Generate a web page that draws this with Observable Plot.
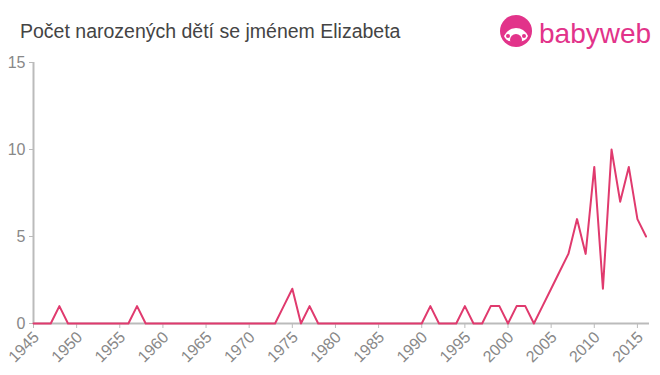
<!DOCTYPE html>
<html><head><meta charset="utf-8">
<script src="https://cdn.jsdelivr.net/npm/d3@7"></script>
<script src="https://cdn.jsdelivr.net/npm/@observablehq/plot@0.6"></script>
<style>
body{margin:0;background:#fff;font-family:"Liberation Sans",Arial,sans-serif;}
#wrap{position:relative;width:660px;height:375px;}
#title{position:absolute;left:20px;top:20px;font-size:19.5px;color:#444;white-space:nowrap;}
#logo{position:absolute;left:498px;top:12px;}
</style></head><body>
<div id="wrap">
<div id="chart"></div>
<div id="title">Počet narozených dětí se jménem Elizabeta</div>
<svg id="logo" width="160" height="40" viewBox="0 0 160 40">
  <circle cx="18" cy="19" r="16" fill="#e2338a"/>
  <path d="M6 24 q4 -8 12 -8 q8 0 12 8 q-2 6 -12 6 q-10 0 -12 -6z" fill="#fff"/>
  <circle cx="18" cy="28" r="6" fill="#e2338a"/>
  <circle cx="10" cy="24" r="2" fill="#e2338a"/>
  <circle cx="26" cy="24" r="2" fill="#e2338a"/>
  <text x="41" y="31" font-family="'Liberation Sans',Arial,sans-serif" font-size="28" fill="#e2338a">babyweb</text>
</svg>
</div>
<script>
const years = [1945,1946,1947,1948,1949,1950,1951,1952,1953,1954,1955,1956,1957,1958,1959,1960,1961,1962,1963,1964,1965,1966,1967,1968,1969,1970,1971,1972,1973,1974,1975,1976,1977,1978,1979,1980,1981,1982,1983,1984,1985,1986,1987,1988,1989,1990,1991,1992,1993,1994,1995,1996,1997,1998,1999,2000,2001,2002,2003,2004,2005,2006,2007,2008,2009,2010,2011,2012,2013,2014,2015,2016];
const counts = [0,0,0,1,0,0,0,0,0,0,0,0,1,0,0,0,0,0,0,0,0,0,0,0,0,0,0,0,0,1,2,0,1,0,0,0,0,0,0,0,0,0,0,0,0,0,1,0,0,0,1,0,0,1,1,0,1,1,0,1,2,3,4,6,4,9,2,10,7,9,6,5];
const xTicks = [1945,1950,1955,1960,1965,1970,1975,1980,1985,1990,1995,2000,2005,2010,2015];
const yTicks = [0,5,10,15];
const data = years.map((y,i)=>({year:y,count:counts[i]}));
const chart = Plot.plot({
  width:660, height:375,
  marginTop:62, marginBottom:52, marginLeft:33, marginRight:11,
  style:{fontFamily:"'Liberation Sans',Arial,sans-serif", background:"#fff"},
  x:{domain:[1945,2016.4]},
  y:{domain:[0,15]},
  marks:[
    Plot.axisX({ticks:xTicks, tickSize:5, tickFormat:()=>"", stroke:"#bbb", label:null}),
    Plot.text(xTicks,{x:d=>d, y:0, text:d=>String(d), rotate:-45, textAnchor:"end", lineAnchor:"middle", dx:3, dy:11, fontSize:16, fill:"#888"}),
    Plot.axisY({ticks:yTicks, tickSize:4, tickPadding:4, fontSize:16, color:"#888", stroke:"#bbb", label:null}),
    Plot.ruleY([0],{stroke:"#bbb", strokeWidth:2}),
    Plot.ruleX([1945],{stroke:"#bbb", strokeWidth:2}),
    Plot.lineY(data,{x:"year", y:"count", stroke:"#e03a6e", strokeWidth:2})
  ]
});
document.getElementById("chart").appendChild(chart);
</script>
</body></html>
